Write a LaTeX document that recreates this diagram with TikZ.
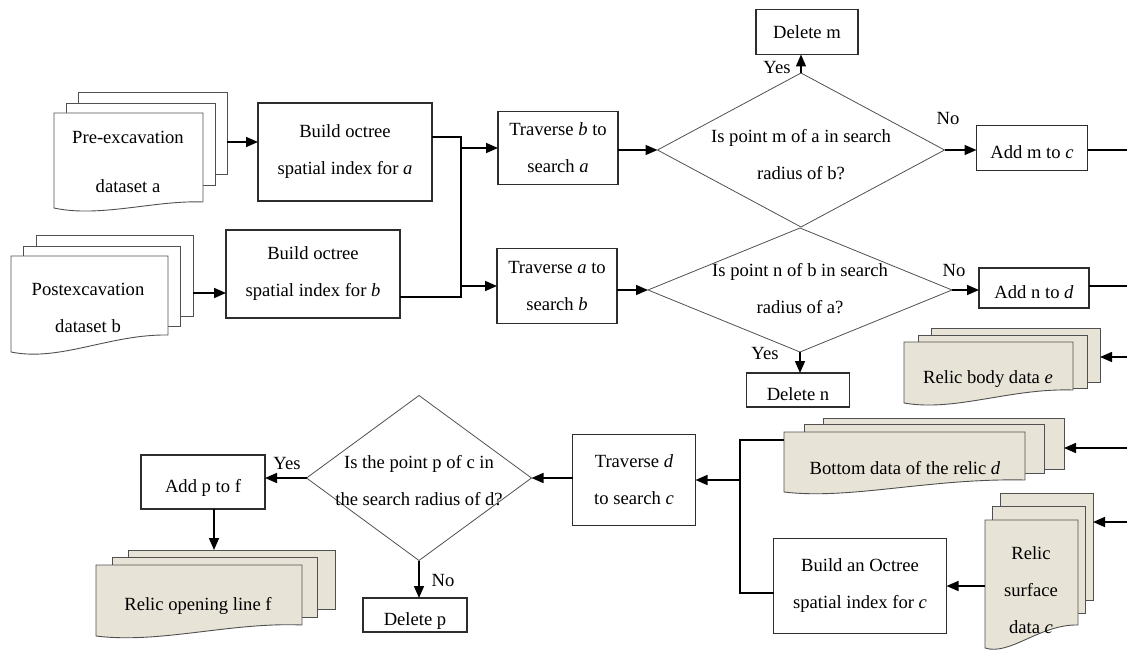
\documentclass[tikz,border=0pt]{standalone}
\usepackage{fontspec}
\setmainfont{Liberation Serif}
\usetikzlibrary{arrows.meta,shapes.geometric}

\definecolor{relicfill}{RGB}{231,227,214}
\definecolor{edgegray}{RGB}{45,45,45}
\definecolor{sheetgray}{RGB}{80,80,80}

\begin{document}
\begin{tikzpicture}[x=1pt, y=-1pt,
    every node/.style={font=\fontsize{18.6}{37}\selectfont, inner sep=0pt, outer sep=0pt, align=center},
    box/.style={draw=edgegray, line width=1.3pt, rectangle},
    lowtext/.style={text height=25pt, text depth=4pt},
    decision/.style={draw=sheetgray, line width=0.8pt, diamond},
    sheet/.style={draw=sheetgray, line width=0.9pt, fill=white},
    relic/.style={sheet, fill=relicfill},
    link/.style={line width=1.6pt},
    arr/.style={link, -{Triangle[length=12pt,width=10pt]}}]
    \useasboundingbox (0,0) rectangle (1127,650);

    % 数据集 a
    \node[sheet, minimum width=149, minimum height=82, anchor=north west] (pre-back) at (78,92) {};
    \draw[sheet] (66,103) rectangle (215,185);
    \draw[sheet] (54,113) -- (54,208) .. controls (100,218) and (155,200) .. (203,202) -- (203,113) -- cycle;
    \node (pre) at (128,162) {Pre-excavation\\[12pt]dataset a};

    % 数据集 b
    \node[sheet, minimum width=157, minimum height=81, anchor=north west] (post-back) at (36,235) {};
    \draw[sheet] (23,246) rectangle (180,326);
    \draw[sheet] (11,256) -- (11,352) .. controls (60,362) and (110,334) .. (168,335) -- (168,256) -- cycle;
    \node (post) at (88,308) {Postexcavation\\dataset b};

    % 文物数据 e, d, c, f
    \node[relic, minimum width=169, minimum height=54, anchor=north west] (rele-back) at (931,328) {};
    \draw[relic] (918,335) rectangle (1087,388);
    \draw[relic] (904,342) -- (904,403) .. controls (955,412) and (1010,388) .. (1073,390) -- (1073,342) -- cycle;
    \node (rele) at (988,379) {Relic body data \textit{e}};

    \node[relic, minimum width=241, minimum height=51, anchor=north west] (botd-back) at (823,418) {};
    \draw[relic] (804,424) rectangle (1044,473);
    \coordinate (botd-nw) at (784,432);
    \draw[relic] (botd-nw) -- (784,492) .. controls (850,500) and (930,478) .. (1025,480) -- (1025,432) -- cycle;
    \node (botd) at (905,468) {Bottom data of the relic \textit{d}};

    \node[relic, minimum width=93, minimum height=107, anchor=north west] (surf-back) at (1000,493) {};
    \draw[relic] (992,506) rectangle (1085,613);
    \coordinate (surf-nw) at (985,520);
    \draw[relic] (surf-nw) -- (985,648) .. controls (1010,656) and (1040,624) .. (1078,625) -- (1078,520) -- cycle;
    \node (surf) at (1031,590) {Relic\\surface\\data \textit{c}};

    \node[relic, minimum width=207, minimum height=59, anchor=north west] (relf-back) at (128,550) {};
    \draw[relic] (112,557) rectangle (317,617);
    \draw[relic] (96,565) -- (96,636) .. controls (160,644) and (230,622) .. (302,625) -- (302,565) -- cycle;
    \node (relf) at (198,606) {Relic opening line f};

    % 处理框
    \node[box, minimum width=174, minimum height=98] (octa) at (345,152) {Build octree\\spatial index for \textit{a}};
    \node[box, minimum width=174, minimum height=88] (octb) at (313,274) {Build octree\\spatial index for \textit{b}};
    \node[box, minimum width=120, minimum height=73] (travb) at (558,148) {Traverse \textit{b} to\\search \textit{a}};
    \node[box, minimum width=120, minimum height=75] (trava) at (557,286) {Traverse \textit{a} to\\search \textit{b}};
    \node[box, minimum width=102, minimum height=45] (delm) at (807,32) {Delete m};
    \node[box, lowtext, minimum width=103, minimum height=34] (deln) at (798,390) {Delete n};
    \node[box, lowtext, minimum width=111, minimum height=45] (addm) at (1032,148) {Add m to \textit{c}};
    \node[box, lowtext, minimum width=110, minimum height=40] (addn) at (1034,288) {Add n to \textit{d}};
    \node[box, minimum width=123, minimum height=91] (travd) at (634,480) {Traverse \textit{d}\\to search \textit{c}};
    \node[box, minimum width=173, minimum height=95] (octc) at (860,586) {Build an Octree\\spatial index for \textit{c}};
    \node[box, lowtext, minimum width=124, minimum height=54] (addp) at (203,482) {Add p to f};
    \node[box, lowtext, minimum width=104, minimum height=34] (delp) at (415,615) {Delete p};

    % 判断框
    \node[decision, minimum width=287, minimum height=154] (q1) at (801,150) {};
    \node (q1t) at (801,155) {Is point m of a in search\\radius of b?};
    \node[decision, minimum width=304, minimum height=124] (q2) at (800,290) {};
    \node (q2t) at (800,289) {Is point n of b in search\\radius of a?};
    \node[decision, minimum width=225, minimum height=165] (q3) at (419,478) {};
    \node (q3t) at (419,481) {Is the point p of c in\\the search radius of d?};

    % Yes / No
    \node (yes1) at (777,68) {Yes};
    \node (no1) at (948,119) {No};
    \node (no2) at (954,270) {No};
    \node (yes2) at (765,353) {Yes};
    \node (yes3) at (287,463) {Yes};
    \node (no3) at (443,580) {No};

    % 右侧出入口
    \coordinate (outm) at (1127,150);
    \coordinate (outn) at (1127,286);
    \coordinate (ine) at (1127,357);
    \coordinate (ind) at (1127,448);
    \coordinate (inc) at (1127,522);

    % 连线
    \coordinate (pa) at ([yshift=-9pt]pre-back.east);
    \draw[arr] (pa) -- (pa -| octa.west);
    \coordinate (pb) at ([yshift=-17.5pt]post-back.east);
    \draw[arr] (pb) -- (pb -| octb.west);

    \coordinate (ja) at (461,137);
    \coordinate (jb) at (461,297);
    \draw[link] (octa.east |- ja) -- (ja) -- (jb) -- (octb.east |- jb);
    \draw[arr] (ja |- travb.west) -- (travb.west);
    \draw[arr] (jb |- trava.west) -- (trava.west);

    \draw[arr] (travb.east |- q1.west) -- (q1.west);
    \draw[arr] (trava.east |- q2.west) -- (q2.west);
    \draw[arr] (q1.north) -- (q1.north |- delm.south);
    \draw[arr] (q1.east) -- (q1.east -| addm.west);
    \draw[link] (addm.east |- outm) -- (outm);
    \draw[arr] (q2.east) -- (q2.east -| addn.west);
    \draw[link] (addn.east |- outn) -- (outn);
    \draw[arr] (q2.south) -- (q2.south |- deln.north);

    \draw[arr] (ine) -- (ine -| rele-back.east);
    \draw[arr] (ind) -- (ind -| botd-back.east);
    \draw[arr] (inc) -- (inc -| surf-back.east);

    \coordinate (jt) at (740,440);
    \coordinate (jl) at (740,593);
    \draw[link] (jt -| botd-nw) -- (jt) -- (jl) -- (jl -| octc.west);
    \draw[arr] (jt |- travd.east) -- (travd.east);
    \draw[arr] (surf-nw |- octc.east) -- (octc.east);

    \draw[arr] (travd.west |- q3.east) -- (q3.east);
    \draw[arr] (q3.west) -- (q3.west -| addp.east);
    \draw[arr] (q3.south) -- (q3.south |- delp.north);
    \coordinate (pf) at ([xshift=11pt]addp.south);
    \draw[arr] (pf) -- (pf |- relf-back.north);
\end{tikzpicture}
\end{document}
